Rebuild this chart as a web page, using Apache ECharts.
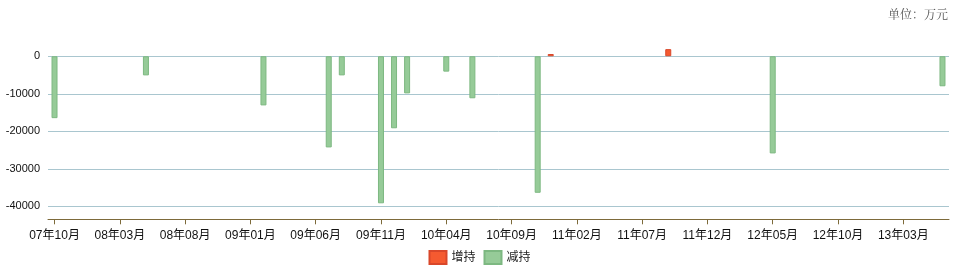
<!DOCTYPE html>
<html>
<head>
<meta charset="utf-8">
<script src="https://cdn.jsdelivr.net/npm/echarts@6/dist/echarts.min.js"></script>
<style>
html,body{margin:0;padding:0;background:#fff;}
#chart{width:959px;height:278px;}
</style>
</head>
<body>
<div id="chart"></div>
<script>
// Months (categories)
var categories = [
  '07年10月','07年11月','07年12月',
  '08年01月','08年02月','08年03月','08年04月','08年05月','08年06月','08年07月','08年08月','08年09月','08年10月','08年11月','08年12月',
  '09年01月','09年02月','09年03月','09年04月','09年05月','09年06月','09年07月','09年08月','09年09月','09年10月','09年11月','09年12月',
  '10年01月','10年02月','10年03月','10年04月','10年05月','10年06月','10年07月','10年08月','10年09月','10年10月','10年11月','10年12月',
  '11年01月','11年02月','11年03月','11年04月','11年05月','11年06月','11年07月','11年08月','11年09月','11年10月','11年11月','11年12月',
  '12年01月','12年02月','12年03月','12年04月','12年05月','12年06月','12年07月','12年08月','12年09月','12年10月','12年11月','12年12月',
  '13年01月','13年02月','13年03月','13年04月','13年05月','13年06月'
];
// 增持 (increase) events: month and value (万元)
var increaseMonths = ['10年12月','11年09月'];
var increaseValues = [600, 1900];
// 减持 (decrease) events: month and value (万元)
var decreaseMonths = ['07年10月','08年05月','09年02月','09年07月','09年08月','09年11月','09年12月','10年01月','10年04月','10年06月','10年11月','12年05月','13年06月'];
var decreaseValues = [-16500, -5100, -13100, -24300, -5100, -39200, -19200, -9900, -4100, -11200, -36400, -25900, -8000];
var yTicks = [-40000, -30000, -20000, -10000, 0];
var seriesNames = ['增持','减持'];
var unitText = '单位：万元';

function toSeries(months, values){
  var arr = categories.map(function(){ return null; });
  months.forEach(function(m, i){ arr[categories.indexOf(m)] = values[i]; });
  return arr;
}

var font = '"Liberation Sans", "Noto Sans CJK SC", sans-serif';
var chart = echarts.init(document.getElementById('chart'), null, {renderer:'canvas'});
chart.setOption({
  animation: false,
  backgroundColor: '#fff',
  title: {
    text: unitText, right: 6, top: 3,
    textStyle: {fontSize: 12, fontWeight: 'normal', color: '#555', fontFamily: '"Noto Serif CJK SC", "Noto Sans CJK SC", serif'}
  },
  legend: {
    data: seriesNames, bottom: 8, left: 'center',
    icon: 'rect',
    itemWidth: 17, itemHeight: 13, itemGap: 8,
    textStyle: {fontSize: 12, color: '#222', fontFamily: font}
  },
  grid: {left: 48, right: 10, top: 18.75, bottom: 71.7, containLabel: false},
  xAxis: {
    type: 'category', data: categories, boundaryGap: true,
    offset: 13,
    axisLine: {onZero: false, lineStyle: {color: '#7d6a3a', width: 1}},
    axisTick: {show: true, interval: 4, alignWithLabel: true, length: 5, lineStyle: {color: '#7d6a3a'}},
    axisLabel: {interval: 4, color: '#111', fontSize: 12, margin: 10, fontFamily: font},
    splitLine: {show: false}
  },
  yAxis: {
    type: 'value', min: -40000, max: 10000, interval: 10000,
    axisLine: {show: false}, axisTick: {show: false},
    axisLabel: {color: '#111', fontSize: 11, margin: 8, fontFamily: font, showMaxLabel: false,
      formatter: function(v){ return yTicks.indexOf(v) >= 0 ? String(v) : ''; }},
    splitLine: {show: true, showMaxLine: false, lineStyle: {color: '#a9c6cf', width: 1}}
  },
  series: [
    {
      name: seriesNames[0], type: 'bar', data: toSeries(increaseMonths, increaseValues),
      barWidth: 6, barGap: '-100%',
      itemStyle: {color: '#f55a30', borderColor: '#d9472a', borderWidth: 1}
    },
    {
      name: seriesNames[1], type: 'bar', data: toSeries(decreaseMonths, decreaseValues),
      barWidth: 6, barGap: '-100%',
      itemStyle: {color: '#96cb98', borderColor: '#7db881', borderWidth: 1}
    }
  ]
});
</script>
</body>
</html>
